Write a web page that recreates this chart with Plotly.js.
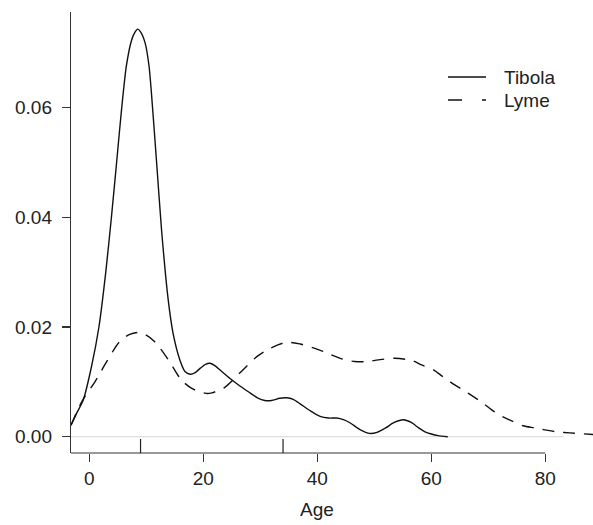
<!DOCTYPE html>
<html>
<head>
<meta charset="utf-8">
<script src="https://cdn.plot.ly/plotly-3.0.1.min.js"></script>
<style>html,body{margin:0;padding:0;background:#fff}#chart{width:593px;height:525px}</style>
</head>
<body>
<div id="chart"></div>
<script>
// Density estimates by age
const tibolaAge = [-3.2, -2.2, -1.05, 0.4, 1.7, 2.9, 3.9, 4.8, 5.7, 6.5, 7.4, 8.0, 8.5, 9.0, 9.8, 10.5, 10.9, 11.82, 12.7, 13.86, 14.7, 15.9, 16.8, 17.7, 18.6, 19.5, 20.4, 21.2, 22.1, 23.0, 24.7, 26.5, 28.2, 29.5, 30.8, 32.0, 33.4, 34.6, 35.8, 37.0, 38.8, 40.5, 42.0, 43.4, 44.6, 45.8, 47.5, 49.2, 50.5, 52.0, 53.5, 55.1, 56.5, 57.8, 58.9, 60.0, 61.2, 62.9];
const tibolaDensity = [0.0021, 0.0043, 0.0067, 0.0128, 0.0200, 0.0300, 0.0401, 0.0500, 0.0600, 0.0675, 0.0722, 0.0737, 0.0743, 0.0738, 0.0718, 0.0675, 0.0628, 0.0500, 0.0375, 0.0249, 0.0189, 0.0140, 0.0119, 0.0114, 0.0117, 0.0125, 0.0132, 0.0134, 0.0129, 0.0121, 0.0106, 0.0092, 0.0080, 0.0071, 0.0066, 0.0066, 0.0070, 0.0071, 0.0068, 0.0060, 0.0047, 0.0037, 0.0034, 0.0034, 0.0031, 0.0025, 0.0013, 0.0006, 0.0008, 0.0016, 0.0026, 0.0031, 0.0026, 0.0016, 0.0009, 0.0005, 0.0002, 0.0000];

const lymeAge = [-3.2, -1.2, 1.0, 2.9, 5.3, 7.0, 8.6, 10.0, 11.5, 13.9, 16.2, 18.0, 19.1, 20.5, 21.5, 23.8, 26.4, 29.4, 31.7, 34.6, 37.0, 39.0, 41.1, 44.6, 46.6, 48.7, 50.7, 53.6, 56.6, 58.3, 60.4, 62.1, 64.2, 65.6, 67.4, 69.1, 70.6, 72.4, 74.1, 76.1, 78.2, 80.2, 82.0, 84.3, 88.5];
const lymeDensity = [0.0021, 0.0066, 0.0100, 0.0134, 0.0173, 0.0186, 0.0190, 0.0185, 0.0173, 0.0140, 0.0103, 0.0088, 0.0083, 0.0079, 0.0080, 0.0090, 0.0116, 0.0146, 0.0161, 0.0172, 0.0169, 0.0163, 0.0155, 0.0141, 0.0137, 0.0137, 0.0140, 0.0143, 0.0139, 0.0131, 0.0122, 0.0109, 0.0094, 0.0085, 0.0073, 0.0061, 0.0049, 0.0037, 0.0029, 0.0020, 0.0016, 0.0012, 0.0009, 0.0007, 0.0004];

// Rug marks (group medians)
const rugAge = [9, 34];

const seriesNames = ["Tibola", "Lyme"];
const xTicks = [0, 20, 40, 60, 80];
const yTicks = [0.00, 0.02, 0.04, 0.06];
const xTitle = "Age";

const xRange = [-3.2, 88.38];
const yRange = [-0.00297, 0.07743];
const axisEnd = 80;       // x axis line ends at last tick
const zeroLineEnd = 83.2; // plot region end
const FONT = "Liberation Sans, Arial, Helvetica, sans-serif";
const INK = "#222222";

const traces = [
  {x: tibolaAge, y: tibolaDensity, name: seriesNames[0], type: "scatter", mode: "lines",
   line: {color: "#111111", width: 1.4, shape: "spline", smoothing: 0.6}, showlegend: false},
  {x: lymeAge, y: lymeDensity, name: seriesNames[1], type: "scatter", mode: "lines",
   line: {color: "#111111", width: 1.4, dash: "12px,9px", shape: "spline", smoothing: 0.8}, showlegend: false}
];

const plotW = 593 - 71, plotH = 441;
const px = v => v / plotW; const py = v => v / plotH;
const xFrac = v => (v - xRange[0]) / (xRange[1] - xRange[0]);

const shapes = [
  // zero line
  {type: "line", xref: "x", yref: "y", x0: xRange[0], x1: zeroLineEnd, y0: 0, y1: 0,
   line: {color: "#d6d6d6", width: 1}, layer: "below"},
  // x axis line
  {type: "line", xref: "paper", yref: "paper", x0: 0, x1: xFrac(axisEnd), y0: 0, y1: 0,
   line: {color: "#333333", width: 1.2}}
];
rugAge.forEach(a => shapes.push({type: "line", xref: "x", yref: "paper", x0: a, x1: a, y0: 0, y1: py(14),
  line: {color: INK, width: 1.2}}));

// manual legend
const legX0 = px(448 - 71), legX1 = px(486 - 71), legTextX = px(502 - 71);
const legY = [1 - py(77 - 12), 1 - py(100 - 12)];
shapes.push({type: "line", xref: "paper", yref: "paper", x0: legX0, x1: legX1, y0: legY[0], y1: legY[0], line: {color: "#111111", width: 1.4}});
shapes.push({type: "line", xref: "paper", yref: "paper", x0: legX0, x1: legX1, y0: legY[1], y1: legY[1], line: {color: "#111111", width: 1.4, dash: "14px,20px"}});

const annotations = seriesNames.map((n, i) => ({text: n, xref: "paper", yref: "paper", x: legTextX, y: legY[i],
  xanchor: "left", yanchor: "middle", showarrow: false, font: {family: FONT, size: 19, color: INK}}));
annotations.push({text: xTitle, xref: "x", yref: "paper", x: (xRange[0] + zeroLineEnd) / 2, y: -py(57),
  xanchor: "center", yanchor: "middle", showarrow: false, font: {family: FONT, size: 19, color: INK}});

const layout = {
  width: 593, height: 525,
  margin: {l: 71, r: 0, t: 12, b: 72, pad: 0},
  paper_bgcolor: "#ffffff", plot_bgcolor: "#ffffff",
  font: {family: FONT, size: 19, color: INK},
  showlegend: false,
  xaxis: {range: xRange, tickvals: xTicks, ticktext: xTicks.map(String), showgrid: false, zeroline: false,
    showline: false, ticks: "outside", ticklen: 8, tickwidth: 1.2, tickcolor: "#333333",
    tickfont: {family: FONT, size: 19, color: INK}, ticklabelstandoff: 0},
  yaxis: {range: yRange, tickvals: yTicks, ticktext: yTicks.map(v => v.toFixed(2)), showgrid: false, zeroline: false,
    showline: true, linecolor: "#333333", linewidth: 1.2, ticks: "outside", ticklen: 8, tickwidth: 1.2, tickcolor: "#333333",
    tickfont: {family: FONT, size: 19, color: INK}, ticklabelstandoff: 6},
  shapes: shapes,
  annotations: annotations
};

Plotly.newPlot("chart", traces, layout, {staticPlot: true, displayModeBar: false});
</script>
</body>
</html>
